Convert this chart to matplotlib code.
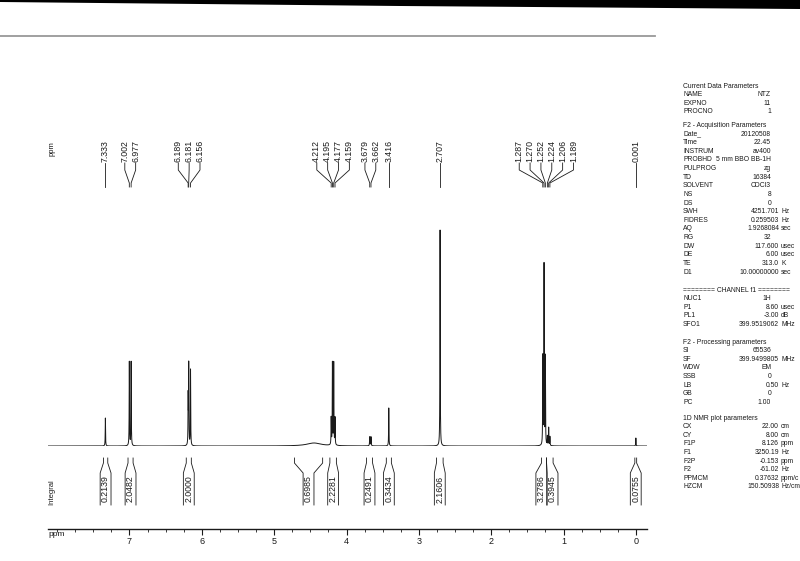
import numpy as np
import matplotlib
matplotlib.use('Agg')
import matplotlib.pyplot as plt
from matplotlib.patches import Polygon

# spectrum window (ppm), as printed in the plot parameters
ppm_hi = 8.126
ppm_lo = -0.153

# peaks: position, height above baseline, half width
peak_ppm = [7.333, 7.002, 6.977, 6.189, 6.181, 6.156,
            4.212, 4.195, 4.177, 4.159, 4.45, 3.679, 3.662, 3.416,
            2.707, 1.287, 1.270, 1.252, 1.224, 1.206, 1.189, 0.001]
peak_height = [28, 84, 84, 48, 80, 76,
               27, 82, 82, 27, 3, 9, 9, 38,
               216, 88, 180, 88, 9, 18, 9, 8]
peak_width = [0.0025, 0.0025, 0.0025, 0.0025, 0.0025, 0.0025,
              0.0025, 0.0025, 0.0025, 0.0025, 0.12, 0.003, 0.003, 0.0025,
              0.0025, 0.0025, 0.0025, 0.0025, 0.0025, 0.0025, 0.0025, 0.0025]

# picked peak labels
label_ppm = [7.333, 7.002, 6.977, 6.189, 6.181, 6.156,
             4.212, 4.195, 4.177, 4.159, 3.679, 3.662, 3.416,
             2.707, 1.287, 1.270, 1.252, 1.224, 1.206, 1.189, 0.001]

# integral regions
int_from = [7.36, 7.02, 6.215, 4.72, 4.23, 3.725, 3.45, 2.757, 1.305, 1.235, 0.015]
int_to = [7.30, 6.95, 6.145, 4.33, 4.14, 3.64, 3.38, 2.665, 1.235, 1.145, -0.01]
int_value = [0.2139, 2.0482, 2.0000, 0.6985, 2.2281, 0.2491, 0.3434, 2.1606, 3.2786, 0.3945, 0.0755]

# axis ticks
major_ticks = [7, 6, 5, 4, 3, 2, 1, 0]
minor_step = 0.25

# parameter block on the right
current_rows = [('NAME', 'NTZ', ''), ('EXPNO', '11', ''), ('PROCNO', '1', '')]
acq_rows = [('Date_', '20120508', ''), ('Time', '22.45', ''), ('INSTRUM', 'av400', ''),
            ('PROBHD', '5 mm BBO BB-1H', ''), ('PULPROG', 'zg', ''), ('TD', '16384', ''),
            ('SOLVENT', 'CDCl3', ''), ('NS', '8', ''), ('DS', '0', ''),
            ('SWH', '4251.701', 'Hz'), ('FIDRES', '0.259503', 'Hz'), ('AQ', '1.9268084', 'sec'),
            ('RG', '32', ''), ('DW', '117.600', 'usec'), ('DE', '6.00', 'usec'),
            ('TE', '313.0', 'K'), ('D1', '10.00000000', 'sec')]
chan_rows = [('NUC1', '1H', ''), ('P1', '8.60', 'usec'), ('PL1', '-3.00', 'dB'),
             ('SFO1', '399.9519062', 'MHz')]
proc_rows = [('SI', '65536', ''), ('SF', '399.9499805', 'MHz'), ('WDW', 'EM', ''),
             ('SSB', '0', ''), ('LB', '0.50', 'Hz'), ('GB', '0', ''), ('PC', '1.00', '')]
plot_rows = [('CX', '22.00', 'cm'), ('CY', '8.00', 'cm'), ('F1P', '8.126', 'ppm'),
             ('F1', '3250.19', 'Hz'), ('F2P', '-0.153', 'ppm'), ('F2', '-61.02', 'Hz'),
             ('PPMCM', '0.37632', 'ppm/c'), ('HZCM', '150.50938', 'Hz/cm')]
sections = [('Current Data Parameters', current_rows, 86),
            ('F2 - Acquisition Parameters', acq_rows, 125.5),
            ('======== CHANNEL f1 ========', chan_rows, 290),
            ('F2 - Processing parameters', proc_rows, 342),
            ('1D NMR plot parameters', plot_rows, 418)]

W, H = 800, 561
FONT = 'Liberation Sans'
INK = '#1a1a1a'
PANEL_FS = 4.9


def fx(x):
    return x / W


def fy(y):
    return 1 - y / H


def spread(pos, gap):
    # push neighbouring labels apart, keeping each crowded group centred
    groups = [[p] for p in pos]
    while True:
        placed = []
        for g in groups:
            c = np.mean(g)
            n = len(g)
            placed.append([c + gap * ((n - 1) / 2 - k) for k in range(n)])
        for i in range(len(groups) - 1):
            if placed[i][-1] - placed[i + 1][0] < gap - 1e-9:
                groups[i] = groups[i] + groups[i + 1]
                del groups[i + 1]
                break
        else:
            return [p for grp in placed for p in grp]


fig = plt.figure(figsize=(W / 100, H / 100), dpi=100)
fig.patch.set_facecolor('white')

# plot area geometry (pixels)
x_left, x_right = 48, 647
base_y = 446
scale_y = 529
px_per_ppm = (x_right - x_left) / (ppm_hi - ppm_lo)

# spectrum
sp = fig.add_axes([fx(x_left), fy(base_y), (x_right - x_left) / W, 230 / H])
x = np.linspace(ppm_hi, ppm_lo, 90000)
y = np.zeros_like(x)
for p, h, w in zip(peak_ppm, peak_height, peak_width):
    y += h / (1 + ((x - p) / w) ** 2)
sp.plot(x, y, color=INK, lw=0.7)
sp.set_xlim(ppm_hi, ppm_lo)
sp.set_ylim(0, 230)
sp.axis('off')

# ppm scale
sc = fig.add_axes([fx(x_left), fy(scale_y), (x_right - x_left) / W, 1e-4])
sc.set_xlim(ppm_hi, ppm_lo)
for s in ['left', 'right', 'top']:
    sc.spines[s].set_visible(False)
sc.spines['bottom'].set_linewidth(1.0)
sc.spines['bottom'].set_color(INK)
sc.set_yticks([])
sc.set_xticks(major_ticks)
sc.set_xticklabels([str(t) for t in major_ticks], fontsize=6.5, family=FONT, color=INK)
minors = [m for m in np.arange(0, 8.01, minor_step) if m not in major_ticks]
sc.set_xticks(minors, minor=True)
sc.tick_params(axis='x', which='major', length=4, width=0.8, pad=1.5, color=INK)
sc.tick_params(axis='x', which='minor', length=2.5, width=0.6, color=INK)

# overlay for labels and integrals, x in ppm, y in pixels
ov = fig.add_axes([0, 0, 1, 1])
ov.set_xlim(ppm_hi + x_left / px_per_ppm, ppm_lo - (W - x_right) / px_per_ppm)
ov.set_ylim(H, 0)
ov.axis('off')

# peak labels
label_pos = spread(label_ppm, 0.15)
for p, lp in zip(label_ppm, label_pos):
    ov.plot([lp, lp, p, p], [163, 170, 183, 187], color=INK, lw=0.6)
    ov.text(lp, 162, '%.3f' % p, rotation=90, ha='center', va='bottom',
            fontsize=6.3, family=FONT, color=INK)

# integral brackets
centres = spread([(a + b) / 2 for a, b in zip(int_from, int_to)], 0.155)
half = 0.075
for a, b, c, v in zip(int_from, int_to, centres, int_value):
    ov.plot([a, a, c + half, c + half], [458, 463, 473, 505], color=INK, lw=0.6)
    ov.plot([b, b, c - half, c - half], [458, 463, 473, 505], color=INK, lw=0.6)
    ov.text(c, 489, '%.4f' % v, rotation=90, ha='center', va='center',
            fontsize=6.3, family=FONT, color=INK)

fig.text(fx(52), fy(149), 'ppm', rotation=90, ha='center', va='center',
         fontsize=5.5, family=FONT, color=INK)
fig.text(fx(52), fy(492), 'Integral', rotation=90, ha='center', va='center',
         fontsize=5.5, family=FONT, color=INK)
fig.text(fx(48), fy(535), 'ppm', ha='left', va='center',
         fontsize=6, family=FONT, color=INK)

# parameter block
row_h = 8.62
for title, rows, y0 in sections:
    fig.text(fx(683), fy(y0), title, ha='left', va='center', fontsize=PANEL_FS, family=FONT, color=INK)
    for i, (name, val, unit) in enumerate(rows):
        yy = fy(y0 + (i + 1) * row_h)
        fig.text(fx(683), yy, name, ha='left', va='center', fontsize=PANEL_FS, family=FONT, color=INK)
        if unit:
            fig.text(fx(779), yy, val, ha='right', va='center', fontsize=PANEL_FS, family=FONT, color=INK)
            fig.text(fx(781), yy, unit, ha='left', va='center', fontsize=PANEL_FS, family=FONT, color=INK)
        else:
            fig.text(fx(771), yy, val, ha='right', va='center', fontsize=PANEL_FS, family=FONT, color=INK)

# scanner edge and page rule at the top
fig.add_artist(Polygon([[0, 1], [1, 1], [1, fy(9)], [0.5, fy(6)], [0, fy(2)]],
                       closed=True, transform=fig.transFigure, color='black', lw=0))
fig.add_artist(plt.Line2D([0, fx(655)], [fy(36), fy(36)], transform=fig.transFigure,
                          color='#999999', lw=1.3))

fig.savefig('out.png', dpi=100, facecolor='white')
